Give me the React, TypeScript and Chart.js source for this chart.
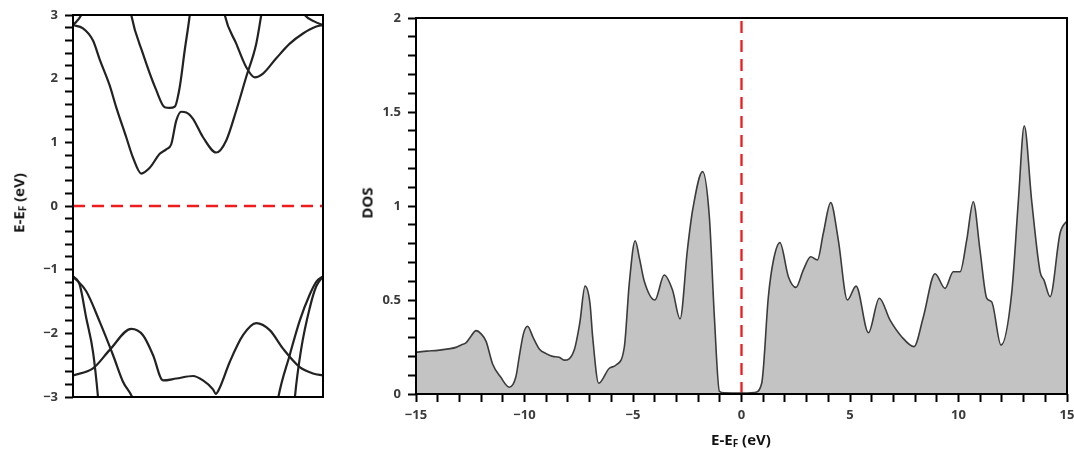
import React, { useEffect, useRef } from "react";
import { Chart, registerables } from "chart.js";
Chart.register(...registerables);

// ---------- Band structure (k in [0,1], E in eV) ----------
const bandC1: [number, number][] = [
  [0, 2.84], [0.04, 2.79], [0.08, 2.6], [0.107, 2.3], [0.147, 1.89], [0.173, 1.55], [0.213, 1.08],
  [0.24, 0.76], [0.273, 0.51], [0.307, 0.6], [0.347, 0.82], [0.373, 0.89], [0.393, 0.97],
  [0.413, 1.34], [0.433, 1.48], [0.453, 1.47], [0.48, 1.37], [0.52, 1.08], [0.573, 0.84],
  [0.613, 1.03], [0.653, 1.5], [0.693, 2.03], [0.733, 2.55], [0.753, 3.0], [0.77, 3.4],
];
const bandC2: [number, number][] = [
  [0.222, 3.3], [0.233, 3.0], [0.28, 2.39], [0.333, 1.82], [0.367, 1.55], [0.387, 1.54],
  [0.407, 1.56], [0.427, 1.87], [0.447, 2.45], [0.467, 3.0], [0.475, 3.3],
];
const bandC3: [number, number][] = [
  [0.595, 3.3], [0.607, 3.0], [0.653, 2.55], [0.693, 2.18], [0.727, 2.02], [0.76, 2.08],
  [0.813, 2.32], [0.867, 2.55], [0.92, 2.71], [0.973, 2.82], [1.0, 2.84],
];
const bandC4: [number, number][] = [[0, 2.84], [0.033, 3.0], [0.05, 3.2]];
const bandC5: [number, number][] = [[0.9, 3.2], [0.927, 3.0], [0.965, 2.9], [1.0, 2.84]];

const bandV1: [number, number][] = [
  [0, -1.105], [0.027, -1.24], [0.053, -1.76], [0.08, -2.29], [0.1, -3.0], [0.106, -3.3],
];
const bandV2: [number, number][] = [
  [0, -1.105], [0.053, -1.34], [0.107, -1.82], [0.16, -2.34], [0.2, -2.76], [0.24, -3.03], [0.26, -3.3],
];
const bandV3: [number, number][] = [
  [0, -2.66], [0.08, -2.55], [0.147, -2.26], [0.233, -1.93], [0.28, -2.03], [0.32, -2.34],
  [0.36, -2.74], [0.413, -2.71], [0.48, -2.67], [0.52, -2.74], [0.56, -2.88], [0.571, -2.95],
  [0.585, -2.87], [0.627, -2.45], [0.68, -2.03], [0.733, -1.84], [0.787, -1.95], [0.84, -2.24],
  [0.907, -2.53], [0.96, -2.63], [1.0, -2.66],
];
const bandV4: [number, number][] = [
  [0.81, -3.3], [0.82, -3.03], [0.867, -2.34], [0.907, -1.8], [0.947, -1.39], [0.975, -1.18], [1.0, -1.105],
];
const bandV5: [number, number][] = [
  [0.882, -3.3], [0.887, -3.03], [0.913, -2.24], [0.947, -1.6], [0.973, -1.26], [1.0, -1.105],
];
const bands = [bandC1, bandC2, bandC3, bandC4, bandC5, bandV1, bandV2, bandV3, bandV4, bandV5];

// ---------- DOS ----------
const dosE: number[] = [
  -15, -14.5, -14, -13.5, -13.16, -12.9, -12.7, -12.45, -12.24, -12.0, -11.77, -11.47, -11.1,
  -10.7, -10.4, -10.24, -10.05, -9.86, -9.6, -9.32, -9.0, -8.7, -8.4, -8.17, -7.71, -7.45, -7.21,
  -6.98, -6.86, -6.58, -6.09, -5.78, -5.4, -5.17, -4.9, -4.7, -4.48, -3.99, -3.56, -3.18, -2.83,
  -2.49, -2.25, -1.79, -1.48, -1.25, -1.02, -0.8, 0, 0.6, 0.93, 1.24, 1.47, 1.77, 2.16, 2.51,
  2.85, 3.19, 3.5, 3.77, 4.11, 4.46, 4.88, 5.28, 5.85, 6.35, 6.84, 7.38, 7.95, 8.38, 8.92, 9.38,
  9.76, 10.07, 10.38, 10.68, 10.99, 11.3, 11.53, 11.96, 12.45, 12.76, 13.03, 13.37, 13.76, 13.94,
  14.22, 14.68, 14.97, 15,
];
const dosV: number[] = [
  0.222, 0.228, 0.232, 0.24, 0.248, 0.262, 0.272, 0.31, 0.337, 0.32, 0.28, 0.16, 0.09,
  0.036, 0.09, 0.2, 0.32, 0.36, 0.3, 0.24, 0.215, 0.2, 0.196, 0.18, 0.234, 0.38, 0.574,
  0.48, 0.305, 0.057, 0.137, 0.154, 0.25, 0.59, 0.815, 0.72, 0.6, 0.5, 0.633, 0.553, 0.4,
  0.77, 0.98, 1.183, 0.94, 0.41, 0.015, 0.006, 0.005, 0.008, 0.057, 0.52, 0.71, 0.805, 0.624, 0.567,
  0.66, 0.73, 0.713, 0.855, 1.018, 0.82, 0.5, 0.574, 0.326, 0.509, 0.394, 0.305, 0.252, 0.41, 0.64, 0.562,
  0.65, 0.65, 0.82, 1.023, 0.766, 0.51, 0.49, 0.26, 0.535, 1.03, 1.426, 1.03, 0.65, 0.606,
  0.518, 0.855, 0.917, 0.92,
];

const bandYTicks: number[] = [-3, -2, -1, 0, 1, 2, 3];
const dosYTicks: number[] = [0, 0.5, 1, 1.5, 2];
const dosXTicks: number[] = [-15, -10, -5, 0, 5, 10, 15];

const FONT = "'Open Sans', 'DejaVu Sans', sans-serif";
const TICK_COLOR = "#3a3a3a";

const fmt = (v: number) => (v < 0 ? "\u2212" + Math.abs(v) : String(v));
const labelFrom = (list: number[]) => (v: any) => {
  const n = Number(v);
  const hit = list.find((t) => Math.abs(t - n) < 1e-6);
  return hit === undefined ? "" : fmt(hit);
};

const framePlugin = {
  id: "frame",
  afterDatasetsDraw(chart: any) {
    const { ctx, chartArea } = chart;
    const { left, top, right, bottom } = chartArea;
    ctx.save();
    ctx.strokeStyle = "#000";
    ctx.lineWidth = 2;
    ctx.strokeRect(left, top, right - left, bottom - top);
    ctx.restore();
  },
};

const gridOpts = {
  drawOnChartArea: false,
  drawTicks: true,
  tickLength: 8,
  tickWidth: 2,
  tickColor: "#000",
};

function BandChart() {
  const ref = useRef<HTMLCanvasElement>(null);
  useEffect(() => {
    const datasets: any[] = bands.map((b) => ({
      data: b.map(([x, y]) => ({ x, y })),
      borderColor: "#222",
      borderWidth: 2.2,
      pointRadius: 0,
      cubicInterpolationMode: "monotone",
      fill: false,
    }));
    datasets.push({
      data: [{ x: 0, y: 0 }, { x: 1, y: 0 }],
      borderColor: "#ee1c1c",
      borderWidth: 2.5,
      borderDash: [12, 7],
      pointRadius: 0,
      fill: false,
    });
    const chart = new Chart(ref.current!, {
      type: "line",
      data: { datasets },
      options: {
        animation: false,
        responsive: false,
        events: [],
        layout: { padding: { left: 0, right: 17, top: 15, bottom: 54 } },
        plugins: { legend: { display: false }, tooltip: { enabled: false } },
        scales: {
          x: { type: "linear", min: 0, max: 1, display: false },
          y: {
            type: "linear",
            min: -3,
            max: 3,
            afterFit: (s: any) => { s.width = 73; },
            grid: gridOpts,
            border: { display: false },
            ticks: {
              stepSize: 0.2,
              autoSkip: false,
              padding: 7,
              color: TICK_COLOR,
              font: { family: FONT, size: 13, weight: "bold" },
              callback: labelFrom(bandYTicks),
            },
          },
        },
      } as any,
      plugins: [framePlugin],
    });
    return () => chart.destroy();
  }, []);
  return <canvas ref={ref} width={340} height={451} style={{ display: "block" }} />;
}

function DosChart() {
  const ref = useRef<HTMLCanvasElement>(null);
  useEffect(() => {
    const chart = new Chart(ref.current!, {
      type: "line",
      data: {
        datasets: [
          {
            data: dosE.map((x, i) => ({ x, y: dosV[i] })),
            borderColor: "#3b3b3b",
            borderWidth: 1.6,
            backgroundColor: "#c3c3c3",
            fill: "origin",
            pointRadius: 0,
            cubicInterpolationMode: "monotone",
          },
          {
            data: [{ x: 0, y: 0 }, { x: 0, y: 2 }],
            borderColor: "#ee1c1c",
            borderWidth: 2.3,
            borderDash: [12, 7],
            pointRadius: 0,
            fill: false,
          },
        ] as any,
      },
      options: {
        animation: false,
        responsive: false,
        events: [],
        layout: { padding: { left: 0, right: 23, top: 18, bottom: 0 } },
        plugins: { legend: { display: false }, tooltip: { enabled: false } },
        scales: {
          x: {
            type: "linear",
            min: -15,
            max: 15,
            afterFit: (s: any) => { s.height = 57; },
            grid: gridOpts,
            border: { display: false },
            ticks: {
              stepSize: 1,
              autoSkip: false,
              maxRotation: 0,
              padding: 5,
              color: TICK_COLOR,
              font: { family: FONT, size: 13, weight: "bold" },
              callback: labelFrom(dosXTicks),
            },
          },
          y: {
            type: "linear",
            min: 0,
            max: 2,
            afterFit: (s: any) => { s.width = 76; },
            grid: gridOpts,
            border: { display: false },
            ticks: {
              stepSize: 0.1,
              autoSkip: false,
              padding: 7,
              color: TICK_COLOR,
              font: { family: FONT, size: 13, weight: "bold" },
              callback: labelFrom(dosYTicks),
            },
          },
        },
      } as any,
      plugins: [framePlugin],
    });
    return () => chart.destroy();
  }, []);
  return <canvas ref={ref} width={750} height={451} style={{ display: "block" }} />;
}

const titleStyle: React.CSSProperties = {
  position: "absolute",
  fontFamily: FONT,
  fontWeight: 700,
  fontSize: 15,
  color: "#111",
  whiteSpace: "nowrap",
  lineHeight: 1,
};
const subStyle: React.CSSProperties = { fontSize: 10, verticalAlign: "-0.15em" };

export default function App() {
  return (
    <div style={{ position: "absolute", left: 0, top: 0, width: 1074, height: 451, background: "#fff", overflow: "hidden" }}>
      <div style={{ position: "absolute", left: 0, top: 0 }}>
        <BandChart />
      </div>
      <div style={{ position: "absolute", left: 340, top: 0 }}>
        <DosChart />
      </div>
      <div style={{ ...titleStyle, left: 19, top: 203, transform: "translate(-50%, -50%) rotate(-90deg)" }}>
        E-E<span style={subStyle}>F</span> (eV)
      </div>
      <div style={{ ...titleStyle, left: 367, top: 203, transform: "translate(-50%, -50%) rotate(-90deg)" }}>
        DOS
      </div>
      <div style={{ ...titleStyle, left: 741, top: 440, transform: "translate(-50%, -50%)" }}>
        E-E<span style={subStyle}>F</span> (eV)
      </div>
    </div>
  );
}
